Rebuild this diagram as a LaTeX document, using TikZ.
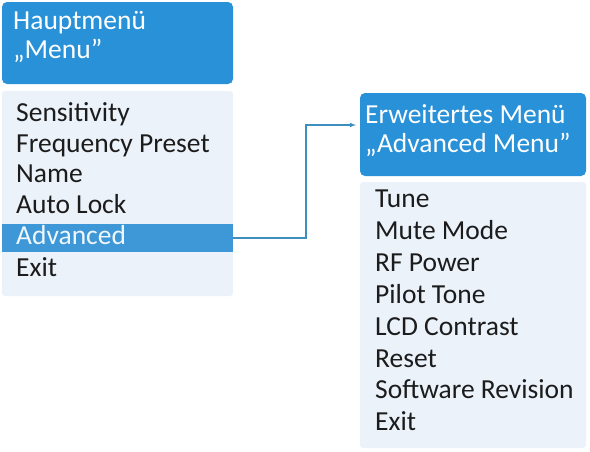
\documentclass[tikz,border=0pt]{standalone}
\usepackage{fontspec}
\setmainfont{Carlito}
\usetikzlibrary{arrows.meta, positioning}
\tikzset{>=latex}
\definecolor{hdblue}{RGB}{40, 145, 215}
\definecolor{selblue}{RGB}{62, 152, 215}
\definecolor{listbg}{RGB}{235, 242, 250}
\definecolor{linkblue}{RGB}{62, 142, 192}
\definecolor{itemgray}{RGB}{28, 28, 28}

\begin{document}
\begin{tikzpicture}[
    x = 1pt, y = -1pt,
    hd/.style = {fill = hdblue, rounded corners = 5pt},
    lst/.style = {fill = listbg, rounded corners = 3pt},
    txt/.style = {anchor = base west, inner sep = 0pt, font = \fontsize{27.5}{31}\selectfont},
    item/.style = {txt, text = itemgray},
    head/.style = {txt, text = white}
]
\useasboundingbox (0, 0) rectangle (590, 451);

% Hauptmenue
\fill[hd]  (2, 2) rectangle (233, 84);
\fill[lst] (2, 91) rectangle (233, 296);
\fill[selblue] (2, 224) rectangle (233, 252);
\node[head] (mhd1) at (13, 29) {Hauptmenü};
\node[head] (mhd2) at (13, 58) {„Menu”};
\node[item] (sens) at (16, 121) {Sensitivity};
\node[item] (freq) at (16, 152) {Frequency Preset};
\node[item] (name) at (16, 182) {Name};
\node[item] (lock) at (16, 213) {Auto Lock};
\node[item, text = white!92!selblue] (adv) at (16, 244) {Advanced};
\node[item] (exit1) at (16, 276) {Exit};
\coordinate (advout) at (233, 238);

% Erweitertes Menue
\fill[hd]  (360, 93) rectangle (586, 176);
\fill[lst] (360, 182) rectangle (586, 448);
\node[head] (ahd1) at (365, 123) {Erweitertes Menü};
\node[head] (ahd2) at (365, 152) {„Advanced Menu”};
\node[item] (tune)  at (375, 207) {Tune};
\node[item] (mute)  at (375, 239) {Mute Mode};
\node[item] (rf)    at (375, 271) {RF Power};
\node[item] (pilot) at (375, 303) {Pilot Tone};
\node[item] (lcd)   at (375, 335) {LCD Contrast};
\node[item] (reset) at (375, 367) {Reset};
\node[item] (soft)  at (375, 398) {Software Revision};
\node[item] (exit2) at (375, 430) {Exit};
\coordinate (advin) at (356, 125);

\draw[->, linkblue, line width = 1.1] (advout) -- (306, 238) |- (advin);

\end{tikzpicture}
\end{document}
